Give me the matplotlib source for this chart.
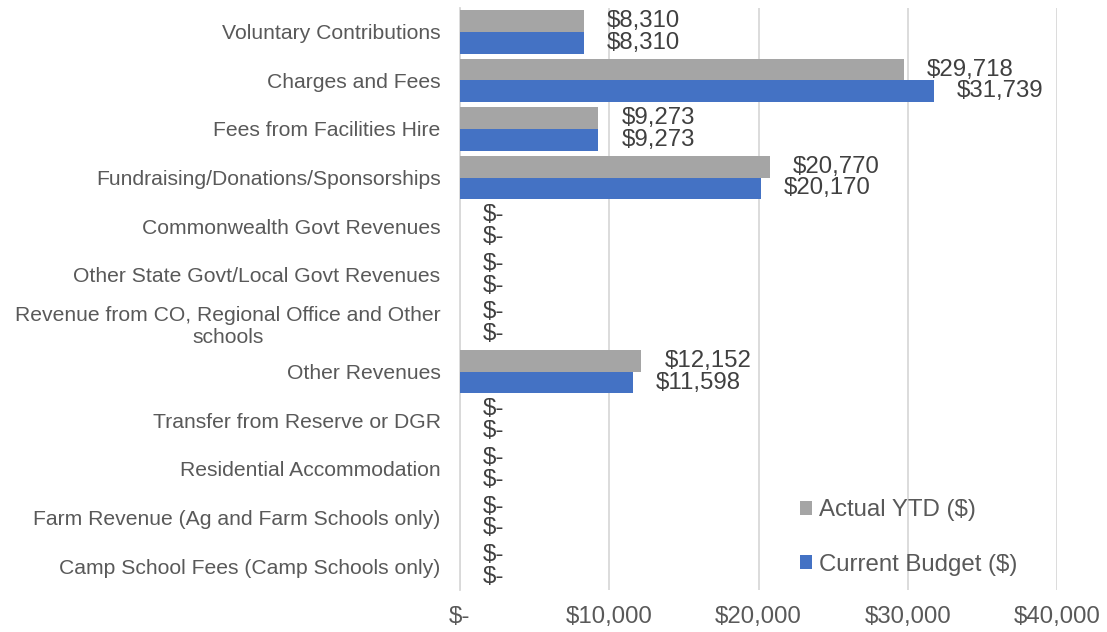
import numpy as np
import matplotlib.pyplot as plt

plt.rcParams['font.family'] = ['Liberation Sans', 'DejaVu Sans']

categories = [
    "Voluntary Contributions",
    "Charges and Fees",
    "Fees from Facilities Hire",
    "Fundraising/Donations/Sponsorships",
    "Commonwealth Govt Revenues",
    "Other State Govt/Local Govt Revenues",
    "Revenue from CO, Regional Office and Other\nschools",
    "Other Revenues",
    "Transfer from Reserve or DGR",
    "Residential Accommodation",
    "Farm Revenue (Ag and Farm Schools only)",
    "Camp School Fees (Camp Schools only)",
]
actual_ytd = [8310, 29718, 9273, 20770, 0, 0, 0, 12152, 0, 0, 0, 0]
current_budget = [8310, 31739, 9273, 20170, 0, 0, 0, 11598, 0, 0, 0, 0]
xticks = [0, 10000, 20000, 30000, 40000]


def money(v):
    return "$-" if v == 0 else f"${v:,.0f}"


fig = plt.figure(figsize=(11.07, 6.32), dpi=100)
ax = fig.add_axes([0.4155, 0.066, 0.5395, 0.922])

y = np.arange(len(categories))
h = 0.447
gray = "#A5A5A5"
blue = "#4472C4"
txt = "#404040"

b1 = ax.barh(y - h / 2, actual_ytd, height=h, color=gray, label="Actual YTD ($)", zorder=3)
b2 = ax.barh(y + h / 2, current_budget, height=h, color=blue, label="Current Budget ($)", zorder=3)

for bars, vals in [(b1, actual_ytd), (b2, current_budget)]:
    for bar, v in zip(bars, vals):
        ax.annotate(money(v), (v, bar.get_y() + bar.get_height() / 2),
                    xytext=(16.5, 0), textcoords="offset points",
                    ha="left", va="center", fontsize=17.3, color=txt)

ax.set_ylim(len(categories) - 0.5, -0.5)
ax.set_xlim(0, 40000)
ax.set_yticks(y)
ax.set_yticklabels(categories, fontsize=15.2, color="#595959", ha="center",
                   multialignment="center")
for lab in ax.get_yticklabels():
    lab.set_horizontalalignment("right")
ax.set_xticks(xticks)
ax.set_xticklabels([money(v) for v in xticks], fontsize=17.3, color="#595959")
ax.tick_params(axis="both", length=0)
ax.tick_params(axis="x", pad=11)
ax.tick_params(axis="y", pad=14)

ax.grid(axis="x", color="#D9D9D9", linewidth=1.3, zorder=0)
for s in ["top", "right", "bottom"]:
    ax.spines[s].set_visible(False)
ax.spines["left"].set_color("#D9D9D9")
ax.spines["left"].set_linewidth(1.3)

ax.legend(loc="lower left", bbox_to_anchor=(0.533, -0.012), frameon=False,
          fontsize=17.3, labelcolor="#595959", handlelength=0.5, handleheight=0.5,
          handletextpad=0.3, labelspacing=1.35)

fig.savefig("out.png", dpi=100)
